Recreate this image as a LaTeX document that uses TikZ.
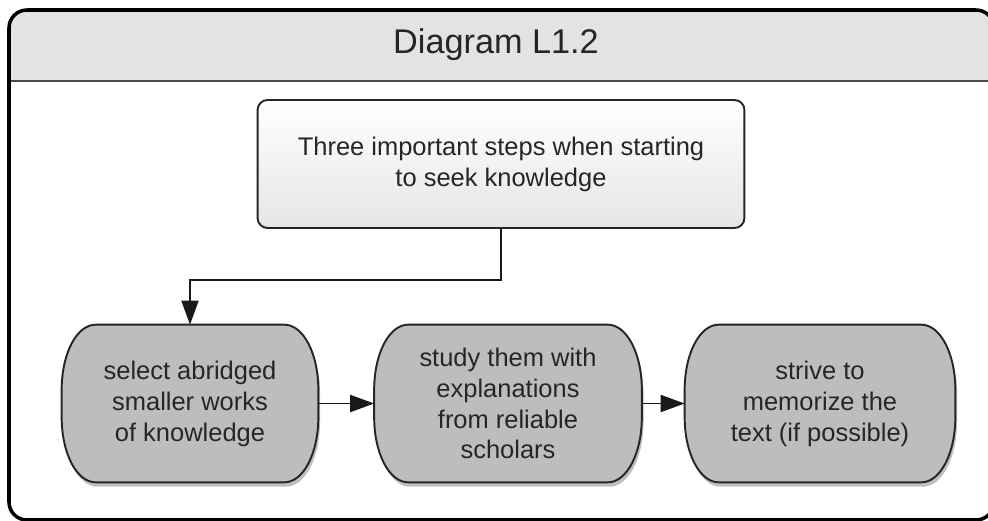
\documentclass[tikz,border=0pt]{standalone}
\usepackage{fontspec}
\setmainfont{Liberation Sans}
\usetikzlibrary{calc,arrows.meta,shadows,backgrounds}

\begin{document}
\begin{tikzpicture}[x=0.02cm,y=-0.02cm,
  every node/.style={text=black!85},
  headbox/.style={font=\fontsize{19.5pt}{23pt}\selectfont},
  topbox/.style={draw=black!85,line width=1.1pt,rounded corners=0.2cm,
    top color=white,bottom color=black!10,align=center,
    minimum width=9.74cm,minimum height=2.56cm,
    font=\fontsize{14.5pt}{17.6pt}\selectfont},
  stepbox/.style={inner sep=0pt,align=center,minimum height=3.14cm,
    font=\fontsize{14.5pt}{17.6pt}\selectfont},
  stepfill/.style={draw=black!85,line width=1.1pt,fill=black!26,
    drop shadow={shadow xshift=1pt,shadow yshift=-2.5pt,opacity=.25,fill=black}},
  flow/.style={draw=black!90,line width=1.1pt,-{Triangle[length=0.48cm,width=0.34cm]}}]

  % page area
  \clip (0,0) rectangle (988,521);

  % header band of the frame
  \begin{scope}
    \clip[rounded corners=0.36cm] (9,10) rectangle (994,520);
    \fill[black!11] (9,10) rectangle (994,81);
  \end{scope}
  \draw[black!70,line width=1.4pt] (9,81) -- (994,81);
  \draw[line width=2pt,rounded corners=0.36cm] (9,10) rectangle (994,520);

  \node[headbox] (title) at (496,45) {Diagram L1.2};

  % main question
  \node[topbox] (top) at (501,164) {Three important steps when starting\\to seek knowledge};

  % the three steps
  \node[stepbox,minimum width=5.12cm] (sel) at (190,403.5) {select abridged\\smaller works\\of knowledge};
  \node[stepbox,minimum width=5.34cm] (study) at (508,403.5) {study them with\\explanations\\from reliable\\scholars};
  \node[stepbox,minimum width=5.4cm] (memo) at (820,403.5) {strive to\\memorize the\\text (if possible)};

  % box outlines with elliptic corners
  \begin{scope}[on background layer]
    \foreach \n in {sel,study,memo}
      \draw[stepfill] ($(\n.north west)+(34,0)$) -- ($(\n.north east)+(-34,0)$)
        .. controls ($(\n.north east)+(-15,0)$) and ($(\n.north east)+(0,29)$) .. ($(\n.north east)+(0,65)$)
        -- ($(\n.south east)+(0,-65)$)
        .. controls ($(\n.south east)+(0,-29)$) and ($(\n.south east)+(-15,0)$) .. ($(\n.south east)+(-34,0)$)
        -- ($(\n.south west)+(34,0)$)
        .. controls ($(\n.south west)+(15,0)$) and ($(\n.south west)+(0,-29)$) .. ($(\n.south west)+(0,-65)$)
        -- ($(\n.north west)+(0,65)$)
        .. controls ($(\n.north west)+(0,29)$) and ($(\n.north west)+(15,0)$) .. cycle;
  \end{scope}

  % connectors
  \draw[flow] (top.south) -- ++(0,51) -| (sel.north);
  \draw[flow] (sel.east) -- (study.west);
  \draw[flow] (study.east) -- (memo.west);
\end{tikzpicture}
\end{document}
